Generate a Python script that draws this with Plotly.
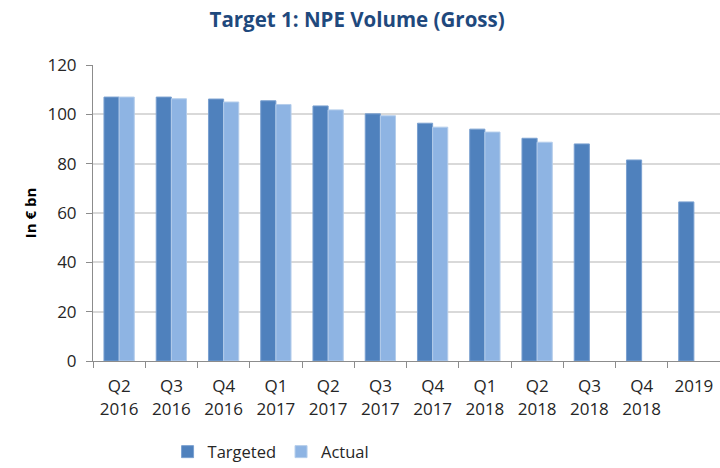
import plotly.graph_objects as go

categories = ["Q2<br>2016", "Q3<br>2016", "Q4<br>2016", "Q1<br>2017", "Q2<br>2017", "Q3<br>2017",
              "Q4<br>2017", "Q1<br>2018", "Q2<br>2018", "Q3<br>2018", "Q4<br>2018", "2019"]
targeted = [107.0, 107.0, 106.2, 105.5, 103.4, 100.2, 96.4, 94.0, 90.3, 88.0, 81.5, 64.5]
actual = [107.0, 106.3, 105.0, 104.0, 101.8, 99.4, 94.8, 92.8, 88.7, None, None, None]
y_ticks = [0, 20, 40, 60, 80, 100, 120]

font_family = "Open Sans, sans-serif"

fig = go.Figure()
fig.add_trace(go.Bar(name="Targeted", x=categories, y=targeted,
                     marker=dict(color="#4F81BD", line=dict(color="#7AA0D0", width=1))))
fig.add_trace(go.Bar(name="Actual", x=categories, y=actual,
                     marker=dict(color="#8EB4E3", line=dict(color="#B4CDEB", width=1))))

fig.update_layout(
    width=720, height=468,
    barmode="group", bargap=0.42, bargroupgap=0,
    plot_bgcolor="white", paper_bgcolor="white",
    margin=dict(l=93, r=0, t=65, b=107, autoexpand=False),
    title=dict(text="<b>Target 1: NPE Volume (Gross)</b>", x=0.496, xanchor="center",
               y=0.957, yanchor="middle", automargin=False,
               font=dict(family=font_family, size=20.5, color="#1F497D")),
    font=dict(family=font_family, size=17, color="#262626"),
    legend=dict(orientation="h", x=0.284, xanchor="center", y=-0.248, yanchor="top",
                font=dict(size=16.5, color="#262626"), traceorder="normal",
                itemwidth=30),
    xaxis=dict(type="category", showline=True, linecolor="#8C8C8C", linewidth=1,
               ticks="outside", tickson="boundaries", ticklen=6, tickcolor="#8C8C8C",
               ticklabelstandoff=10,
               tickfont=dict(size=17, color="#262626"), showgrid=False, automargin=False),
    yaxis=dict(range=[0, 120], tickvals=y_ticks, showline=True, linecolor="#8C8C8C",
               linewidth=1, ticks="outside", ticklen=6, tickcolor="#8C8C8C",
               ticklabelstandoff=6,
               gridcolor="#D9D9D9", gridwidth=1.5, zeroline=False, automargin=False,
               tickfont=dict(size=17, color="#262626")),
    annotations=[dict(text="<b>In € bn</b>", xref="paper", yref="paper", x=-0.1, y=0.5,
                      xanchor="center", yanchor="middle", textangle=-90, showarrow=False,
                      font=dict(family=font_family, size=15, color="#000000"))],
)

fig.write_html("out.html", config={"displayModeBar": False},
               post_script="document.body.style.margin='0';")
